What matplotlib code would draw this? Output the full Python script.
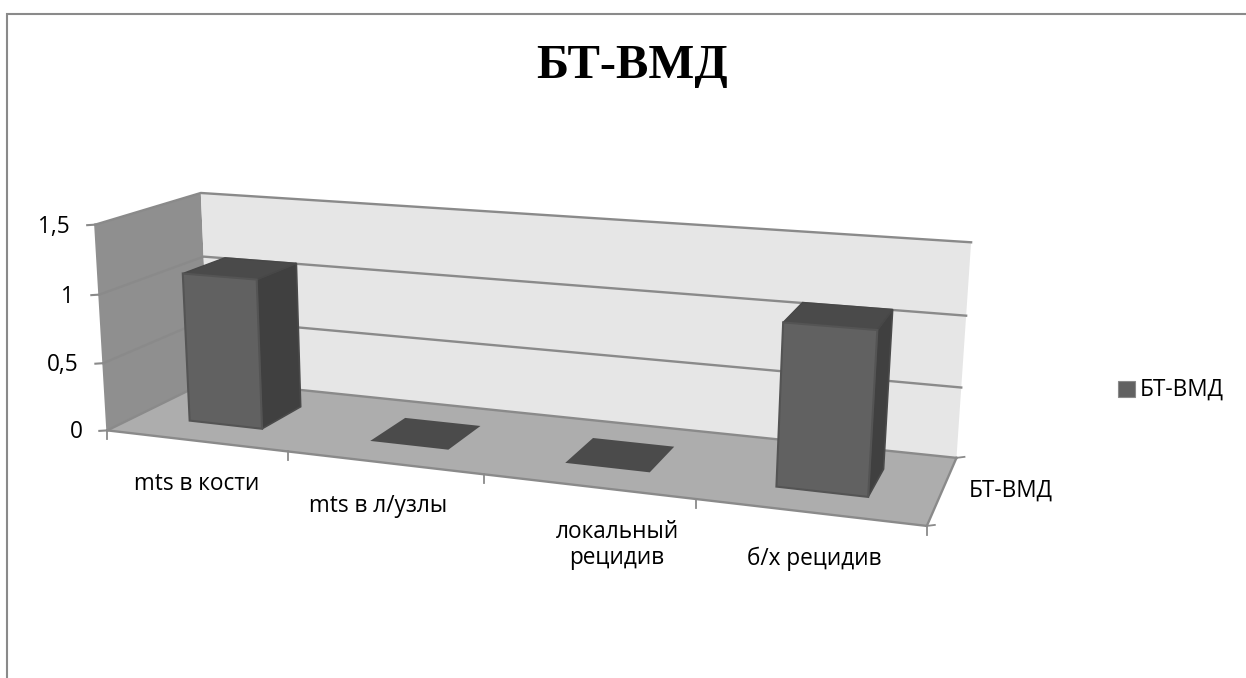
import numpy as np
import matplotlib
matplotlib.use("Agg")
import matplotlib.pyplot as plt
from matplotlib.patches import Polygon

W, H = 1246, 678

title = "БТ-ВМД"
series_name = "БТ-ВМД"
categories = ["mts в кости", "mts в л/узлы", "локальный\nрецидив", "б/х рецидив"]
values = [1, 0, 0, 1]
value_ticks = [0, 0.5, 1, 1.5]
value_labels = ["0", "0,5", "1", "1,5"]

LABEL_FONT = "Open Sans"
LABEL_SIZE = 16.3
VMAX = 1.5

# Camera: box corners (u across categories, v into depth, w up) and where they land on the page
corners_3d = np.array([
    [0, 0, 0], [1, 0, 0], [0, 1, 0], [1, 1, 0],
    [0, 0, 1], [0, 1, 1], [1, 1, 1],
], dtype=float)
corners_2d = np.array([
    [108.3, 430.7], [926.7, 526.0], [208.0, 380.2], [956.7, 457.8],
    [94.3, 224.3], [201.7, 193.3], [971.0, 242.3],
])


def fit_camera(src, dst):
    rows = []
    for (x, y, z), (px, py) in zip(src, dst):
        rows.append([x, y, z, 1, 0, 0, 0, 0, -px * x, -px * y, -px * z, -px])
        rows.append([0, 0, 0, 0, x, y, z, 1, -py * x, -py * y, -py * z, -py])
    _, _, vt = np.linalg.svd(np.array(rows))
    return vt[-1].reshape(3, 4)


CAM = fit_camera(corners_3d, corners_2d)


def project(u, v, value):
    p = CAM @ np.array([u, v, value / VMAX, 1.0])
    return p[:2] / p[2]


def face(points):
    return np.array([project(*pt) for pt in points])


fig = plt.figure(figsize=(W / 100, H / 100), dpi=100, facecolor="white")
ax = fig.add_axes([0, 0, 1, 1])
ax.set_xlim(0, W)
ax.set_ylim(H, 0)
ax.axis("off")

# Chart frame
ax.plot([7, 7, W], [H, 14, 14], color="#8a8a8a", lw=1.5, solid_joinstyle="miter")

# Walls and floor
ax.add_patch(Polygon(face([(0, 0, 0), (0, 1, 0), (0, 1, VMAX), (0, 0, VMAX)]),
                     fc="#8f8f8f", ec="none", zorder=1))
ax.add_patch(Polygon(face([(0, 1, 0), (1, 1, 0), (1, 1, VMAX), (0, 1, VMAX)]),
                     fc="#e6e6e6", ec="none", zorder=1))
ax.add_patch(Polygon(face([(0, 0, 0), (1, 0, 0), (1, 1, 0), (0, 1, 0)]),
                     fc="#adadad", ec="none", zorder=1))

# Gridlines wrapping the two walls, with ticks on the value axis
GRID = "#8a8a8a"
for t in value_ticks:
    path = face([(0, 0, t), (0, 1, t), (1, 1, t)])
    ax.plot(path[:, 0], path[:, 1], color=GRID, lw=1.7, zorder=2, solid_joinstyle="round")

left_edge = face([(0, 0, 0), (0, 0, VMAX)])
ax.plot(left_edge[:, 0], left_edge[:, 1], color="#8f8f8f", lw=1.5, zorder=2)
for t, lab in zip(value_ticks, value_labels):
    x, y = project(0, 0, t)
    ax.plot([x - 8, x], [y + 0.5, y], color=GRID, lw=1.5, zorder=2)
    ax.text(x - 25, y + 2, lab, ha="right", va="center", fontsize=LABEL_SIZE,
            family=LABEL_FONT, color="black")

# Front and right floor edges with their ticks
front = face([(0, 0, 0), (1, 0, 0)])
ax.plot(front[:, 0], front[:, 1], color=GRID, lw=1.7, zorder=2)
right = face([(1, 0, 0), (1, 1, 0)])
ax.plot(right[:, 0], right[:, 1], color=GRID, lw=1.7, zorder=2)
n = len(categories)
for i in range(n + 1):
    x, y = project(i / n, 0, 0)
    ax.plot([x, x], [y, y + 9], color=GRID, lw=1.3, zorder=2)
for v in (0, 1):
    x, y = project(1, v, 0)
    ax.plot([x, x + 8], [y, y - 1], color=GRID, lw=1.3, zorder=2)

# Bars: the column renderer draws slightly proud of the gridlines
BAR_W = 0.41
D0, D1 = 0.29, 0.71
HEIGHT_GAIN = 1.1
for i, val in enumerate(values):
    c = (i + 0.5) / n
    a = c - BAR_W / n / 2
    b = c + BAR_W / n / 2
    h = val * HEIGHT_GAIN
    top = [(a, D0, h), (b, D0, h), (b, D1, h), (a, D1, h)]
    if val == 0:
        ax.add_patch(Polygon(face(top), fc="#4b4b4b", ec="none", zorder=3))
        continue
    ax.add_patch(Polygon(face([(b, D0, 0), (b, D1, 0), (b, D1, h), (b, D0, h)]),
                         fc="#404040", ec="#4a4a4a", lw=1.2, zorder=3))
    ax.add_patch(Polygon(face(top), fc="#4a4a4a", ec="#474747", lw=1.0, zorder=4))
    ax.add_patch(Polygon(face([(a, D0, 0), (b, D0, 0), (b, D0, h), (a, D0, h)]),
                         fc="#616161", ec="#545454", lw=1.5, zorder=5))

# Category and depth labels
label_pos = [(197, 484), (378, 506), (617, 545), (814, 559)]
for (x, y), lab in zip(label_pos, categories):
    ax.text(x, y, lab, ha="center", va="center", fontsize=LABEL_SIZE, family=LABEL_FONT,
            color="black", linespacing=1.15)
ax.text(1011, 491, series_name, ha="center", va="center", fontsize=LABEL_SIZE,
        family=LABEL_FONT, color="black")

# Legend
ax.add_patch(Polygon([(1118, 381), (1135, 381), (1135, 397), (1118, 397)],
                     fc="#616161", ec="#8a8a8a", lw=0.8))
ax.text(1140, 390, series_name, ha="left", va="center", fontsize=LABEL_SIZE,
        family=LABEL_FONT, color="black")

# Title
ax.text(632, 66, title, ha="center", va="center", fontsize=35, fontweight="bold",
        family="Liberation Serif", color="black")

fig.savefig("out.png", dpi=100, facecolor="white")
